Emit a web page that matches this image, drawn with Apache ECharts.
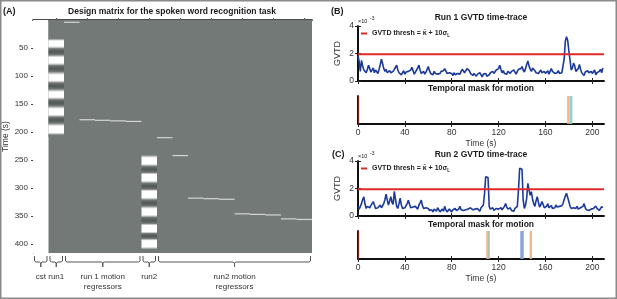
<!DOCTYPE html>
<html>
<head>
<meta charset="utf-8">
<script src="https://cdn.jsdelivr.net/npm/echarts@6/dist/echarts.min.js"></script>
<style>
    html, body { margin: 0; padding: 0; background: #fff; }
    #main { width: 617px; height: 299px; }
</style>
</head>
<body>
<div id="main"></div>
<script>
// ---- design matrix (panel A) ----
let nTime = 416;
let numCols = 18;
let columnBase = [1, 0, 0, 0, 0, 0, 0, 0, 0, 0, 0, 0, 0, 0, 0, 0, 0, 0];
let columnGroups = [
    ['cst', 0, 1],
    ['run1', 1, 2],
    ['run 1 motion\nregressors', 2, 7],
    ['run2', 7, 8],
    ['run2 motion\nregressors', 8, 18]
];
let timeTicksA = [50, 100, 150, 200, 250, 300, 350, 400];

// task regressor profiles, [time, value]
let run1Col = 1;
let run1Task = [
    [0, 0], [33, 0], [37, 1], [47, 1], [51, 0], [55, -0.35], [58, -0.35], [62, 0],
    [66, 1], [77, 1], [81, 0], [85, -0.35], [88, -0.35], [92, 0],
    [97, 1], [108, 1], [112, 0], [116, -0.35], [119, -0.35], [123, 0],
    [128, 1], [138, 1], [142, 0], [146, -0.35], [149, -0.35], [153, 0],
    [158, 1], [169, 1], [173, 0], [177, -0.35], [180, -0.35], [184, 0],
    [189, 1], [201, 1], [205, 0], [208, 0]
];
let run2Col = 7;
let run2Task = [
    [208, 0], [241, 0], [245, 1], [257, 1], [261, 0], [265, -0.35], [268, -0.35], [272, 0],
    [275, 1], [287, 1], [291, 0], [295, -0.35], [298, -0.35], [302, 0],
    [305, 1], [317, 1], [321, 0], [325, -0.35], [328, -0.35], [332, 0],
    [336, 1], [348, 1], [352, 0], [356, -0.35], [359, -0.35], [363, 0],
    [366, 1], [378, 1], [381, 0], [384, -0.35], [387, -0.35], [390, 0],
    [393, 1], [405, 1], [409, 0], [416, 0]
];
// motion spike regressors, [column, time]
let motionSpikes = [
    [2, 3], [3, 177], [4, 178], [5, 179], [6, 180],
    [8, 209], [9, 241], [10, 317], [11, 318], [12, 319],
    [13, 345], [14, 346], [15, 347], [16, 354], [17, 355]
];

// ---- GVTD traces (panels B, C), units of 1e-3 ----
let timeTicks = [0, 40, 80, 120, 160, 200];
let gvtdTicks = [0, 2, 4];
let gvtdRun1 = [
    1.85, 1.4, 0.7, 1.5, 1.1, 0.8, 0.9, 0.6, 0.85, 1.15,
    0.9, 0.65, 0.7, 0.95, 0.6, 0.8, 0.9, 0.55, 0.85, 1.2,
    1.58, 1.25, 0.9, 0.7, 0.85, 0.6, 0.5, 0.75, 0.6, 0.55,
    0.7, 0.85, 1.0, 1.15, 0.8, 0.6, 0.7, 0.45, 0.6, 0.75,
    0.5, 0.65, 0.55, 0.7, 0.6, 0.8, 1.0, 0.75, 0.5, 0.65,
    0.8, 0.95, 1.15, 0.8, 0.55, 0.45, 0.7, 0.5, 0.65, 0.85,
    1.05, 0.75, 0.55, 0.6, 0.45, 0.7, 0.55, 0.65, 0.5, 0.6,
    0.55, 0.7, 0.6, 0.75, 0.9, 0.8, 0.55, 0.45, 0.6, 0.5,
    0.55, 0.4, 0.6, 0.45, 0.4, 0.55, 0.65, 0.5, 0.7, 0.85,
    0.8, 0.6, 0.7, 0.9, 1.0, 0.75, 0.55, 0.5, 0.4, 0.55,
    0.45, 0.35, 0.5, 0.4, 0.6, 0.45, 0.3, 0.5, 0.4, 0.55,
    0.35, 0.3, 0.45, 0.6, 0.5, 0.7, 0.55, 0.65, 0.8, 0.7,
    0.9, 1.15, 0.85, 0.6, 0.75, 0.55, 0.65, 0.5, 0.7, 0.6,
    0.55, 0.7, 0.6, 0.8, 0.65, 0.5, 0.7, 0.85, 0.75, 0.9,
    1.05, 0.8, 0.65, 0.9, 1.2, 1.45, 1.1, 0.85, 0.7, 0.95,
    1.0, 0.75, 0.6, 0.7, 0.55, 0.65, 0.8, 0.6, 0.5, 0.7,
    0.55, 0.65, 0.75, 0.5, 0.6, 0.9, 0.7, 0.6, 0.55, 0.65,
    0.6, 0.75, 0.55, 0.65, 0.6, 0.7, 1.6, 2.9, 3.22, 2.95,
    2.2, 1.5, 0.8, 0.95, 1.3, 1.1, 0.7, 0.6, 0.9, 1.2,
    0.85, 0.6, 0.5, 0.4, 0.65, 0.55, 0.75, 0.6, 0.5, 0.7,
    0.55, 0.65, 0.8, 0.45, 0.6, 0.5, 0.7, 0.85, 0.6, 0.95
];
let gvtdRun2 = [
    0.68, 0.5, 0.45, 0.9, 1.2, 1.4, 0.85, 0.55, 0.7, 0.8,
    0.6, 0.75, 0.9, 1.05, 0.8, 0.55, 0.45, 0.6, 0.5, 0.8,
    0.6, 0.7, 0.9, 1.2, 1.58, 1.15, 0.8, 1.1, 1.4, 1.0,
    0.85, 1.8, 1.2, 0.7, 0.55, 0.9, 1.3, 0.8, 0.55, 0.45,
    0.6, 0.7, 0.9, 1.15, 0.85, 0.6, 0.5, 0.65, 0.55, 0.7,
    0.6, 0.5, 0.8, 0.95, 1.15, 0.75, 0.55, 0.45, 0.6, 0.7,
    0.55, 0.4, 0.35, 0.45, 0.3, 0.5, 0.4, 0.35, 0.6, 0.45,
    0.3, 0.4, 0.5, 0.35, 0.7, 0.45, 0.3, 0.35, 0.5, 0.4,
    0.3, 0.45, 0.35, 0.55, 0.4, 0.3, 0.5, 0.7, 0.45, 0.35,
    0.4, 0.3, 0.45, 0.35, 0.5, 0.4, 0.6, 0.7, 0.45, 0.35,
    0.5, 0.4, 0.55, 0.45, 0.35, 0.6, 0.5, 0.8, 1.6, 2.86,
    2.85, 2.8, 0.7, 0.5, 0.45, 0.6, 0.4, 0.35, 0.55, 0.45,
    0.5, 0.4, 0.6, 0.45, 0.55, 0.7, 0.9, 0.65, 0.5, 0.45,
    0.6, 0.4, 0.5, 0.35, 0.55, 0.45, 0.7, 1.9, 3.47, 3.42,
    3.4, 1.15, 0.55, 0.8, 1.3, 2.38, 1.9, 1.5, 1.77, 1.2,
    0.9, 0.7, 1.1, 1.4, 1.0, 0.65, 0.8, 1.05, 0.85, 0.6,
    0.5, 0.7, 0.9, 0.6, 0.5, 0.75, 0.55, 0.45, 0.6, 0.8,
    0.65, 0.55, 0.7, 0.6, 0.75, 0.9, 1.2, 1.45, 1.65, 1.6,
    1.05, 0.7, 0.55, 0.45, 0.6, 0.5, 0.55, 0.7, 0.5, 0.45,
    0.6, 0.5, 0.7, 0.9, 0.6, 0.45, 0.55, 0.4, 0.45, 0.5,
    0.6, 0.55, 0.65, 0.72, 0.55, 0.45, 0.4, 0.5, 0.68, 0.6
];
let threshRun1 = 1.95;
let threshRun2 = 1.95;
let runLength = 210;

// censored frames, [start, end] in seconds
let maskRun1 = [[0, 1], [178.5, 180.5], [180.5, 183]];
let maskRun2 = [[0, 1], [109.5, 111], [111, 112.5], [138.5, 141.5], [146.5, 148.5]];

// ---- styles ----
let FONT = 'Liberation Sans, Arial, sans-serif';
let maskColors1 = ['#8c2d19', '#f0b07c', '#86cccc'];
let maskColors2 = ['#8c2d19', '#f0b07c', '#a4b8a6', '#7d9bd4', '#f0b07c'];
let grayMid = [114, 121, 119];
let grayLow = [72, 78, 77];

function grayOf(v) {
    let target = v >= 0 ? [255, 255, 255] : grayLow;
    let f = v >= 0 ? Math.min(1, v) : Math.min(1, -v / 0.5);
    return 'rgb(' + grayMid.map((c, i) => Math.round(c + (target[i] - c) * f)).join(',') + ')';
}

// build heatmap cells: [col0, col1, t0, t1, v0, v1]
let cells = [];
let runStart = 0;
for (let i = 1; i <= numCols; i++) {
    if (i === numCols || columnBase[i] !== columnBase[runStart]) {
        cells.push([runStart, i, 0, nTime, columnBase[runStart], columnBase[runStart]]);
        runStart = i;
    }
}
function addProfile(col, prof) {
    for (let i = 0; i < prof.length - 1; i++) {
        cells.push([col, col + 1, prof[i][0], prof[i + 1][0], prof[i][1], prof[i + 1][1]]);
    }
}
addProfile(run1Col, run1Task);
addProfile(run2Col, run2Task);

function renderCell(params, api) {
    let p0 = api.coord([api.value(0), api.value(2)]);
    let p1 = api.coord([api.value(1), api.value(3)]);
    return {
        type: 'rect',
        shape: { x: p0[0], y: p0[1], width: p1[0] - p0[0], height: p1[1] - p0[1] + 0.4 },
        style: {
            fill: {
                type: 'linear', x: 0, y: 0, x2: 0, y2: 1,
                colorStops: [
                    { offset: 0, color: grayOf(api.value(4)) },
                    { offset: 1, color: grayOf(api.value(5)) }
                ]
            }
        }
    };
}

function renderSpike(params, api) {
    let col = api.value(0);
    let p0 = api.coord([col, api.value(1)]);
    let p1 = api.coord([col + 1, api.value(1) + 1]);
    return {
        type: 'rect',
        shape: { x: p0[0], y: p0[1], width: p1[0] - p0[0], height: Math.max(1.2, p1[1] - p0[1]) },
        style: { fill: '#d3d6d5' }
    };
}

function renderBracket(params, api) {
    let a = api.coord([api.value(0), nTime]);
    let b = api.coord([api.value(1), nTime]);
    let x0 = a[0] + 1.5, x1 = b[0] - 1.5, xm = (a[0] + b[0]) / 2, y = a[1];
    return {
        type: 'group',
        children: [
            {
                type: 'polyline',
                shape: { points: [[x0, y + 3], [x0, y + 8], [x0 + 1.5, y + 9], [xm - 1.5, y + 9], [xm, y + 10],
                                  [xm, y + 14], [xm, y + 10], [xm + 1.5, y + 9], [x1 - 1.5, y + 9], [x1, y + 8], [x1, y + 3]] },
                style: { stroke: '#555', fill: null, lineWidth: 1 }
            },
            {
                type: 'text', x: xm, y: y + 19,
                style: {
                    text: columnGroups[params.dataIndex][0], fill: '#333', font: '8px ' + FONT,
                    textAlign: 'center', textVerticalAlign: 'top', lineHeight: 10
                }
            }
        ]
    };
}

function renderMask(colors) {
    return function (params, api) {
        let p0 = api.coord([api.value(0), 1]);
        let p1 = api.coord([api.value(1), 0]);
        return {
            type: 'rect',
            shape: { x: p0[0], y: p0[1], width: Math.max(1, p1[0] - p0[0]), height: p1[1] - p0[1] },
            style: { fill: colors[params.dataIndex], opacity: 0.9 }
        };
    };
}

let frameLine = { show: true, lineStyle: { color: '#000', width: 1.5 } };
let inTick = { show: true, inside: true, length: 3, lineStyle: { color: '#222' } };
let labelStyle = { fontSize: 8.5, color: '#333', fontFamily: FONT };

function timeAxis(grid, pos, showLabels) {
    return {
        gridIndex: grid, type: 'value', min: 0, max: runLength, position: pos,
        axisLine: frameLine,
        axisTick: Object.assign({ customValues: timeTicks }, inTick),
        axisLabel: Object.assign({ show: showLabels, customValues: timeTicks, margin: 4 }, labelStyle),
        splitLine: { show: false },
        name: showLabels ? 'Time (s)' : '', nameLocation: 'middle', nameGap: 15,
        nameTextStyle: { fontSize: 8.5, color: '#333', fontFamily: FONT }
    };
}
function gvtdAxis(grid, pos, showLabels) {
    return {
        gridIndex: grid, type: 'value', min: 0, max: 4, position: pos,
        axisLine: frameLine,
        axisTick: Object.assign({ customValues: gvtdTicks }, inTick),
        axisLabel: Object.assign({ show: showLabels, customValues: gvtdTicks, margin: 4 }, labelStyle),
        splitLine: { show: false },
        name: showLabels ? 'GVTD' : '', nameLocation: 'middle', nameGap: 16,
        nameTextStyle: { fontSize: 9, color: '#333', fontFamily: FONT }
    };
}
function maskYAxis(grid, pos) {
    return {
        gridIndex: grid, type: 'value', min: 0, max: 1, position: pos,
        axisLine: frameLine, axisTick: { show: false }, axisLabel: { show: false }, splitLine: { show: false }
    };
}

let colTicks = [];
for (let i = 1; i < numCols; i += 2) colTicks.push(i + 0.5);

function textEl(x, y, text, font, align) {
    return {
        type: 'text', x: x, y: y, silent: true,
        style: { text: text, font: font, fill: '#1a1a1a', textAlign: align || 'center', textVerticalAlign: 'middle' }
    };
}

let legendBase = {
    orient: 'horizontal', icon: 'rect', itemWidth: 6, itemHeight: 2, padding: 0, itemGap: 3,
    formatter: function () { return 'GVTD thresh = κ̃ + 10σ{sub|L}'; },
    textStyle: {
        fontSize: 7, fontWeight: 'bold', color: '#222', fontFamily: FONT,
        rich: { sub: { fontSize: 4.5, fontWeight: 'bold', verticalAlign: 'bottom', padding: [4, 0, 0, 0] } }
    }
};

let option = {
    animation: false,
    grid: [
        { left: 33, top: 20, width: 279, height: 233 },
        { left: 358, top: 26, width: 246, height: 55 },
        { left: 358, top: 96, width: 246, height: 28 },
        { left: 358, top: 161, width: 246, height: 55 },
        { left: 358, top: 231, width: 246, height: 28 }
    ],
    legend: [
        Object.assign({ data: ['GVTD thresh'], left: 361, top: 30 }, legendBase),
        Object.assign({ data: ['GVTD thresh'], left: 361, top: 165 }, legendBase)
    ],
    xAxis: [
        {
            gridIndex: 0, type: 'value', min: 0, max: numCols, position: 'bottom',
            axisLine: { show: true, lineStyle: { color: '#111', width: 1 } },
            axisTick: { show: true, inside: true, length: 2, customValues: colTicks, lineStyle: { color: '#555' } },
            axisLabel: { show: false }, splitLine: { show: false }
        },
        {
            gridIndex: 0, type: 'value', min: 0, max: numCols, position: 'top',
            axisLine: { show: true, lineStyle: { color: '#111', width: 1.5 } },
            axisTick: { show: true, inside: true, length: 2, customValues: colTicks, lineStyle: { color: '#555' } },
            axisLabel: { show: false }, splitLine: { show: false }
        },
        timeAxis(1, 'bottom', false),
        timeAxis(1, 'top', false),
        timeAxis(2, 'bottom', true),
        timeAxis(2, 'top', false),
        timeAxis(3, 'bottom', false),
        timeAxis(3, 'top', false),
        timeAxis(4, 'bottom', true),
        timeAxis(4, 'top', false)
    ],
    yAxis: [
        {
            gridIndex: 0, type: 'value', min: 0, max: nTime, inverse: true, position: 'left',
            axisLine: { show: false },
            axisTick: { show: true, inside: true, length: 3, customValues: timeTicksA, lineStyle: { color: '#333' } },
            axisLabel: { show: true, customValues: timeTicksA, fontSize: 8, color: '#333', fontFamily: FONT, margin: 5 },
            splitLine: { show: false },
            name: 'Time (s)', nameLocation: 'middle', nameGap: 23,
            nameTextStyle: { fontSize: 8.5, color: '#333', fontFamily: FONT }
        },
        {
            gridIndex: 0, type: 'value', min: 0, max: nTime, inverse: true, position: 'right',
            axisLine: { show: true, lineStyle: { color: '#666', width: 1 } },
            axisTick: { show: true, inside: true, length: 2, customValues: timeTicksA, lineStyle: { color: '#444' } },
            axisLabel: { show: false }, splitLine: { show: false }
        },
        gvtdAxis(1, 'left', true),
        gvtdAxis(1, 'right', false),
        maskYAxis(2, 'left'),
        maskYAxis(2, 'right'),
        gvtdAxis(3, 'left', true),
        gvtdAxis(3, 'right', false),
        maskYAxis(4, 'left'),
        maskYAxis(4, 'right')
    ],
    graphic: [
        textEl(3, 12, '(A)', 'bold 9px ' + FONT, 'left'),
        textEl(172, 12, 'Design matrix for the spoken word recognition task', 'bold 8.5px ' + FONT),
        textEl(331, 12, '(B)', 'bold 9px ' + FONT, 'left'),
        textEl(481, 18, 'Run 1 GVTD time-trace', 'bold 8.5px ' + FONT),
        textEl(358, 21, '×10', '5.5px ' + FONT, 'left'),
        textEl(370, 19, '-3', '5px ' + FONT, 'left'),
        textEl(481, 89, 'Temporal mask for motion', 'bold 8.5px ' + FONT),
        textEl(332, 155, '(C)', 'bold 9px ' + FONT, 'left'),
        textEl(481, 155, 'Run 2 GVTD time-trace', 'bold 8.5px ' + FONT),
        textEl(358, 156, '×10', '5.5px ' + FONT, 'left'),
        textEl(370, 154, '-3', '5px ' + FONT, 'left'),
        textEl(481, 225, 'Temporal mask for motion', 'bold 8.5px ' + FONT),
        {
            type: 'rect', silent: true, z: 100,
            shape: { x: 0.75, y: 0.75, width: 615.5, height: 297.5 },
            style: { fill: 'none', stroke: '#8a8a8a', lineWidth: 1.5 }
        }
    ],
    series: [
        {
            type: 'custom', xAxisIndex: 0, yAxisIndex: 0, clip: true,
            renderItem: renderCell, encode: { x: [0, 1], y: [2, 3] }, data: cells, silent: true
        },
        {
            type: 'custom', xAxisIndex: 0, yAxisIndex: 0, clip: true,
            renderItem: renderSpike, encode: { x: 0, y: 1 }, data: motionSpikes, silent: true
        },
        {
            type: 'custom', xAxisIndex: 0, yAxisIndex: 0, clip: false,
            renderItem: renderBracket, encode: { x: [0, 1] },
            data: columnGroups.map(g => [g[1], g[2]]), silent: true
        },
        {
            name: 'GVTD', type: 'line', xAxisIndex: 2, yAxisIndex: 2, showSymbol: false,
            lineStyle: { color: '#1c3a9c', width: 1.6 }, itemStyle: { color: '#1c3a9c' },
            data: gvtdRun1.map((v, i) => [i, v])
        },
        {
            name: 'GVTD thresh', type: 'line', xAxisIndex: 2, yAxisIndex: 2, showSymbol: false,
            lineStyle: { color: '#e02a2a', width: 2 }, itemStyle: { color: '#e02a2a' },
            data: [[0, threshRun1], [runLength, threshRun1]]
        },
        {
            type: 'custom', xAxisIndex: 4, yAxisIndex: 4, clip: true,
            renderItem: renderMask(maskColors1), encode: { x: [0, 1] }, data: maskRun1, silent: true
        },
        {
            name: 'GVTD', type: 'line', xAxisIndex: 6, yAxisIndex: 6, showSymbol: false,
            lineStyle: { color: '#1c3a9c', width: 1.6 }, itemStyle: { color: '#1c3a9c' },
            data: gvtdRun2.map((v, i) => [i, v])
        },
        {
            name: 'GVTD thresh', type: 'line', xAxisIndex: 6, yAxisIndex: 6, showSymbol: false,
            lineStyle: { color: '#e02a2a', width: 2 }, itemStyle: { color: '#e02a2a' },
            data: [[0, threshRun2], [runLength, threshRun2]]
        },
        {
            type: 'custom', xAxisIndex: 8, yAxisIndex: 8, clip: true,
            renderItem: renderMask(maskColors2), encode: { x: [0, 1] }, data: maskRun2, silent: true
        }
    ]
};

let chart = echarts.init(document.getElementById('main'), null, { renderer: 'canvas' });
chart.setOption(option);
</script>
</body>
</html>
